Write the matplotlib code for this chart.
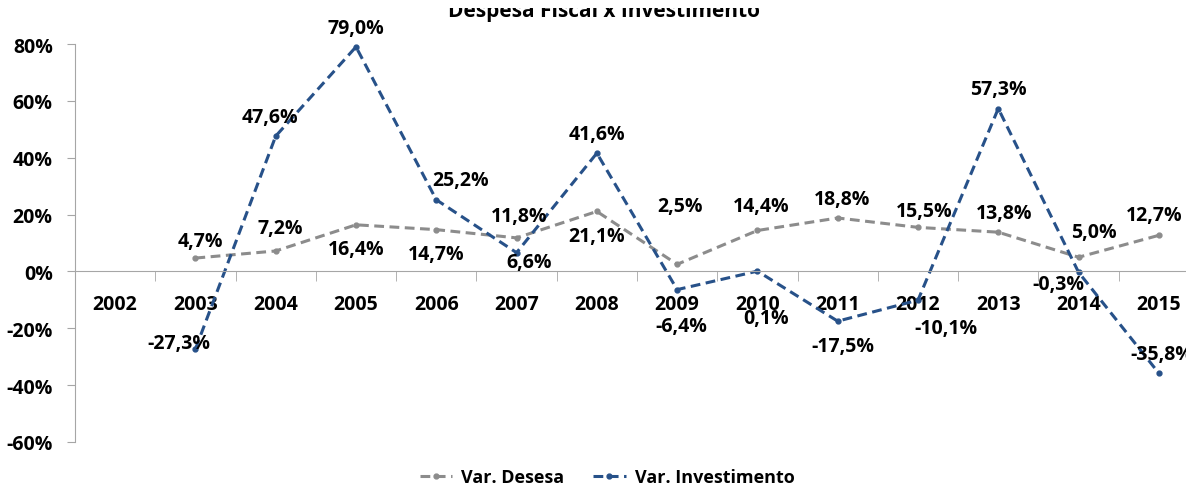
import matplotlib.pyplot as plt
from matplotlib.patches import Rectangle
import numpy as np

anos = ['2002', '2003', '2004', '2005', '2006', '2007', '2008',
        '2009', '2010', '2011', '2012', '2013', '2014', '2015']
var_despesa = [np.nan, 4.7, 7.2, 16.4, 14.7, 11.8, 21.1,
               2.5, 14.4, 18.8, 15.5, 13.8, 5.0, 12.7]
var_invest = [np.nan, -27.3, 47.6, 79.0, 25.2, 6.6, 41.6,
              -6.4, 0.1, -17.5, -10.1, 57.3, -0.3, -35.8]

# deslocamento dos rotulos (pixels) em relacao a cada ponto
off_despesa = [None, (5, 17), (5, 23), (0, -24), (0, -24), (3, 22), (0, -25),
               (3, 58), (4, 24), (4, 19), (6, 16), (6, 19), (15, 25), (-5, 20)]
off_invest = [None, (-17, 6), (-6, 19), (0, 19), (24, 20), (13, -9), (0, 19),
              (4, -36), (9, -47), (5, -25), (28, -28), (0, 20), (-20, -12), (3, 19)]

cinza = '#8c8c8c'
azul = '#275189'
tam = 14

plt.rcParams['font.family'] = ['Open Sans', 'DejaVu Sans']
plt.rcParams['font.weight'] = 'bold'

fig = plt.figure(figsize=(11.86, 4.89), dpi=100)
ax = fig.add_axes([75 / 1186, 1 - 443 / 489, 1124 / 1186, 398 / 489])

x = np.arange(len(anos))
ax.plot(x, var_despesa, color=cinza, lw=2.2, ls=(0, (3.2, 1.8)), marker='o', ms=3.5,
        label='Var. Desesa')
ax.plot(x, var_invest, color=azul, lw=2.2, ls=(0, (3.2, 1.8)), marker='o', ms=3.5,
        label='Var. Investimento')

for serie, offs in [(var_despesa, off_despesa), (var_invest, off_invest)]:
    for xi, v, off in zip(x, serie, offs):
        if off is None:
            continue
        ax.annotate(f'{v:.1f}%'.replace('.', ','), (xi, v), xytext=off,
                    textcoords='offset pixels', ha='center', va='center',
                    fontsize=tam, fontweight='bold')

for s in ['top', 'right']:
    ax.spines[s].set_visible(False)
ax.spines['bottom'].set_position(('data', 0))
ax.spines['bottom'].set_color('#a6a6a6')
ax.spines['left'].set_color('#a6a6a6')

ax.set_xlim(-0.5, len(anos) - 0.5)
ax.set_ylim(-60, 80)
ax.set_yticks(np.arange(-60, 81, 20))
ax.set_yticklabels([f'{t}%' for t in range(-60, 81, 20)])

ax.set_xticks(x)
ax.set_xticklabels(anos)
ax.set_xticks(np.arange(-0.5, len(anos), 1), minor=True)
ax.tick_params(axis='x', which='major', length=0, pad=16, labelsize=tam)
ax.tick_params(axis='x', which='minor', length=7, color='#a6a6a6', direction='out')
ax.tick_params(axis='y', length=6, color='#a6a6a6', pad=10, labelsize=tam)
for lab in ax.get_xticklabels() + ax.get_yticklabels():
    lab.set_fontweight('bold')

# titulo cortado na borda superior
fig.text(604 / 1186, 1 - 17 / 489, 'Despesa Fiscal x Investimento', ha='center',
         va='baseline', fontsize=15, fontweight='bold')
fig.add_artist(Rectangle((0.3, 1 - 9 / 489), 0.4, 9 / 489, transform=fig.transFigure,
                         facecolor='white', edgecolor='none', zorder=10))

fig.legend(loc='center', bbox_to_anchor=(607 / 1186, 1 - 478 / 489), ncol=2,
           frameon=False, fontsize=13, handlelength=1.8, columnspacing=1.6,
           handletextpad=0.5)

fig.savefig('out.png', dpi=100)
